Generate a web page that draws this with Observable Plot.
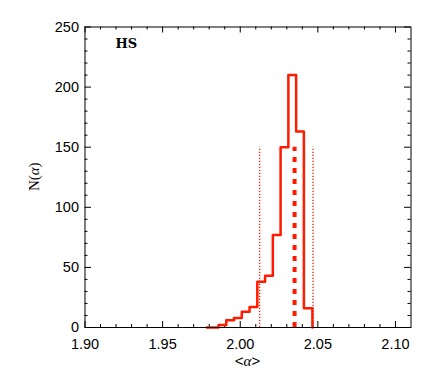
<!DOCTYPE html>
<html><head><meta charset="utf-8">
<script src="https://cdn.jsdelivr.net/npm/d3@7"></script>
<script src="https://cdn.jsdelivr.net/npm/@observablehq/plot@0.6"></script>
<style>body{margin:0;background:#fff;}</style>
</head><body><div id="chart"></div>
<script>
// Histogram bins (left edges) and counts
const binStarts = [1.9785, 1.986, 1.991, 1.996, 2.001, 2.006, 2.011, 2.016, 2.021, 2.026, 2.031, 2.036, 2.041];
const counts    = [0,      2,     6,     8,     13,    17,    38,    43,    77,    150,   210,   163,   16];
const lastEdge = 2.0465;
// Markers: mean and range
const meanAlpha = [2.035];
const rangeAlpha = [2.0125, 2.0469];
const markerTop = 150;
// Axes
const xTicks = [1.90, 1.95, 2.00, 2.05, 2.10];
const xMinor = [1.91,1.92,1.93,1.94,1.96,1.97,1.98,1.99,2.01,2.02,2.03,2.04,2.06,2.07,2.08,2.09];
const yTicks = [0, 50, 100, 150, 200, 250];
const yMinor = [10,20,30,40,60,70,80,90,110,120,130,140,160,170,180,190,210,220,230,240];
const panelLabel = ["HS"];

const W = 436, H = 381;
const mL = 84.5, mR = 25.5, mT = 26.5, mB = 54;
const ph = H - mT - mB, pw = W - mL - mR;
const red = "#ff1a00";

const steps = binStarts.map((x, i) => ({x, y: counts[i]})).concat([{x: lastEdge, y: 0}]);

const chart = Plot.plot({
  width: W, height: H,
  marginLeft: mL, marginRight: mR, marginTop: mT, marginBottom: mB,
  style: {fontFamily: "Liberation Sans, Arial, sans-serif", fontSize: "14.5px", color: "#000", background: "#fff"},
  x: {domain: [1.90, 2.11]},
  y: {domain: [0, 250]},
  marks: [
    Plot.axisX({ticks: xTicks, tickSize: 0, tickPadding: 11, tickFormat: d3.format(".2f"), label: null, fontSize: 14.5}),
    Plot.axisY({ticks: yTicks, tickSize: 0, tickPadding: 6, dy: 0, label: null, fontSize: 14.5}),
    // inward ticks bottom/top
    Plot.tickX(xTicks, {x: d => d, insetTop: ph - 6, stroke: "#000"}),
    Plot.tickX(xTicks, {x: d => d, insetBottom: ph - 6, stroke: "#000"}),
    Plot.tickX(xMinor, {x: d => d, insetTop: ph - 3, stroke: "#000"}),
    Plot.tickX(xMinor, {x: d => d, insetBottom: ph - 3, stroke: "#000"}),
    // inward ticks left/right
    Plot.tickY(yTicks, {y: d => d, insetRight: pw - 6.5, stroke: "#000"}),
    Plot.tickY(yTicks, {y: d => d, insetLeft: pw - 6.5, stroke: "#000"}),
    Plot.tickY(yMinor, {y: d => d, insetRight: pw - 3, stroke: "#000"}),
    Plot.tickY(yMinor, {y: d => d, insetLeft: pw - 3, stroke: "#000"}),
    // range markers
    Plot.ruleX(rangeAlpha, {x: d => d, y1: 0, y2: markerTop, stroke: red, strokeWidth: 1.3, strokeDasharray: "1.2,1.8"}),
    Plot.ruleX(meanAlpha, {x: d => d, y1: 0, y2: markerTop, stroke: red, strokeWidth: 4, strokeDasharray: "5,6"}),
    // histogram
    Plot.line(steps, {x: "x", y: "y", curve: "step-after", stroke: red, strokeWidth: 2.5}),
    Plot.frame({stroke: "#000", strokeWidth: 1}),
    Plot.text(panelLabel, {frameAnchor: "top-left", dx: 30.5, dy: 17, textAnchor: "start", lineAnchor: "middle",
      fontFamily: "DejaVu Serif, serif", fontWeight: "bold", fontSize: 13, fill: "#000"})
  ]
});

const svg = d3.select(chart);
const xt = svg.append("text").attr("x", mL + pw / 2).attr("y", 366).attr("text-anchor", "middle")
  .attr("font-family", "Liberation Sans, Arial, sans-serif").attr("font-size", 15).attr("fill", "#000");
xt.append("tspan").text("<");
xt.append("tspan").attr("font-style", "italic").attr("font-family", "Liberation Serif, serif").text("α");
xt.append("tspan").text(">");

const yt = svg.append("text").attr("transform", `translate(39,${mT + ph / 2}) rotate(-90)`).attr("text-anchor", "middle")
  .attr("font-family", "Liberation Serif, serif").attr("font-size", 15).attr("fill", "#000");
yt.append("tspan").text("N(");
yt.append("tspan").attr("font-style", "italic").text("α");
yt.append("tspan").text(")");

document.getElementById("chart").appendChild(chart);
</script>
</body></html>
